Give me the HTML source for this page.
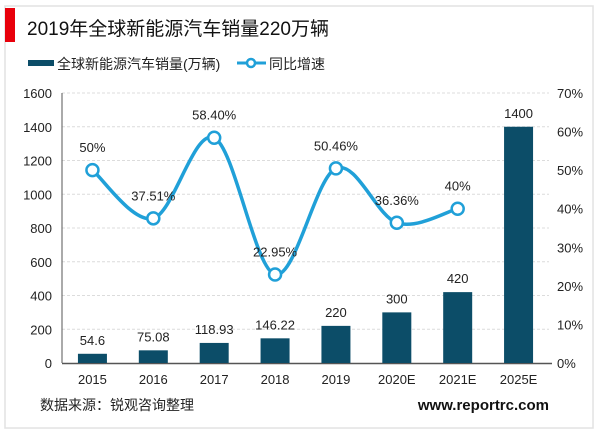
<!DOCTYPE html>
<html><head><meta charset="utf-8"><style>
body{margin:0;background:#fff;}
#wrap{position:relative;width:600px;height:433px;background:#fff;font-family:"Liberation Sans","Noto Sans CJK SC",sans-serif;overflow:hidden;}
</style></head><body>
<div id="wrap">
<svg id="svg" width="600" height="433" xmlns="http://www.w3.org/2000/svg">
<rect x="5" y="6" width="588" height="422" fill="#fff" stroke="#e2e2e2" stroke-width="1.5"/>
<rect x="5" y="8" width="10" height="34" fill="#e8000b"/>
<text x="27" y="35" font-size="19" fill="#111">2019年全球新能源汽车销量220万辆</text>
<rect x="28" y="60" width="26" height="6" fill="#0c4d68"/>
<text x="57" y="69" font-size="14" fill="#222">全球新能源汽车销量(万辆)</text>
<line x1="237" y1="63" x2="266" y2="63" stroke="#20a0d8" stroke-width="3"/>
<circle cx="251" cy="63" r="4" fill="#fff" stroke="#20a0d8" stroke-width="2.5"/>
<text x="269" y="69" font-size="14" fill="#222">同比增速</text>
<g id="grid"></g><g id="bars"></g><g id="line"></g><g id="labels"></g>
<text x="40" y="410" font-size="14" fill="#222">数据来源：锐观咨询整理</text>
<text x="549" y="410" font-size="15" font-weight="bold" fill="#111" text-anchor="end">www.reportrc.com</text>
</svg>
</div>
<script>
const categories=["2015","2016","2017","2018","2019","2020E","2021E","2025E"];
const sales=[54.6,75.08,118.93,146.22,220,300,420,1400];
const salesLabels=["54.6","75.08","118.93","146.22","220","300","420","1400"];
const growth=[50,37.51,58.40,22.95,50.46,36.36,40];
const growthLabels=["50%","37.51%","58.40%","22.95%","50.46%","36.36%","40%"];
const leftTicks=[0,200,400,600,800,1000,1200,1400,1600];
const rightTicks=[0,10,20,30,40,50,60,70];
const NS="http://www.w3.org/2000/svg";
const x0=62,x1=549,yB=363,yT=93;
const step=(x1-x0)/categories.length;
const xc=i=>x0+step*(i+0.5);
const yL=v=>yB-(v/1600)*(yB-yT);
const yR=v=>yB-(v/70)*(yB-yT);
function mk(tag,attrs,parent,txt){const e=document.createElementNS(NS,tag);for(const k in attrs)e.setAttribute(k,attrs[k]);if(txt!==undefined)e.textContent=txt;document.getElementById(parent).appendChild(e);return e;}
leftTicks.forEach(t=>{
 if(t>0){const g=mk('line',{x1:x0,x2:x1,y1:yL(t),y2:yL(t),stroke:'#dcdcdc','stroke-width':1,'stroke-dasharray':'3,2'},'grid');
 
 }
 const l=mk('text',{x:52,y:yL(t)+5,'font-size':13,'text-anchor':'end',fill:'#222'},'grid',String(t));
 
 
});
rightTicks.forEach(t=>{
 const l=mk('text',{x:557,y:yR(t)+5,'font-size':13,fill:'#222'},'grid',t+'%');
 
 
});
const ax=mk('line',{x1:x0,x2:x0,y1:yT,y2:yB,stroke:'#555','stroke-width':1},'grid');


const bx=mk('line',{x1:x0,x2:x1+3,y1:yB+0.5,y2:yB+0.5,stroke:'#555','stroke-width':1.5},'grid');


categories.forEach((c,i)=>{
 const bw=29;
 const b=mk('rect',{x:xc(i)-bw/2,y:yL(sales[i]),width:bw,height:yB-yL(sales[i]),fill:'#0c4d68'},'bars');
 
 
 const v=mk('text',{x:xc(i),y:yL(sales[i])-9,'font-size':13,'text-anchor':'middle',fill:'#222'},'labels',salesLabels[i]);
 
 
 const xl=mk('text',{x:xc(i),y:384,'font-size':13,'text-anchor':'middle',fill:'#222'},'labels',c);
 
 
});
const pts=growth.map((g,i)=>[xc(i),yR(g)]);
let d='M'+pts[0][0]+','+pts[0][1];
for(let i=0;i<pts.length-1;i++){
 const p0=pts[Math.max(i-1,0)],p1=pts[i],p2=pts[i+1],p3=pts[Math.min(i+2,pts.length-1)];
 const t=0.5/3*2;
 const c1=[p1[0]+(p2[0]-p0[0])*t/2*1.0,p1[1]+(p2[1]-p0[1])*t/2];
 const c2=[p2[0]-(p3[0]-p1[0])*t/2,p2[1]-(p3[1]-p1[1])*t/2];
 d+=' C'+c1[0]+','+c1[1]+' '+c2[0]+','+c2[1]+' '+p2[0]+','+p2[1];
}
const path=mk('path',{d:d,fill:'none',stroke:'#20a0d8','stroke-width':3.5},'line');


pts.forEach((p,i)=>{
 const c=mk('circle',{cx:p[0],cy:p[1],r:6,fill:'#fff',stroke:'#20a0d8','stroke-width':2.5},'line');
 
 
 const l=mk('text',{x:p[0],y:p[1]-18,'font-size':13,'text-anchor':'middle',fill:'#222'},'labels',growthLabels[i]);
 
 
});
</script>
</body></html>
